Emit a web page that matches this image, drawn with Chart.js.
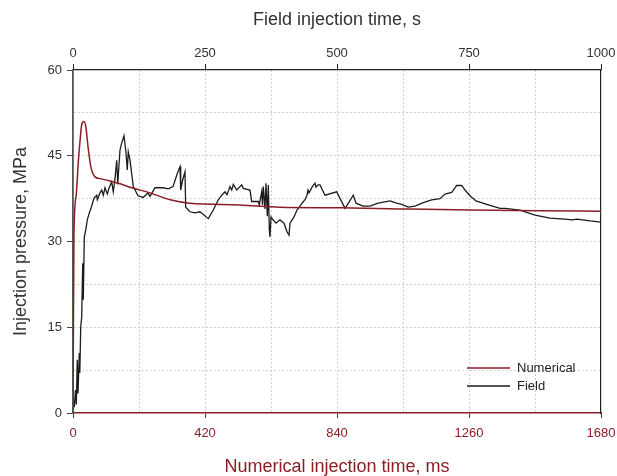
<!DOCTYPE html>
<html>
<head>
<meta charset="utf-8">
<script src="https://cdn.jsdelivr.net/npm/chart.js@4"></script>
<style>
  html, body { margin: 0; padding: 0; background: #fff; }
</style>
</head>
<body>
<canvas id="pressureChart" width="617" height="476"></canvas>
<script>
// Numerical run: time in ms (bottom axis), pressure in MPa
const numTimeMs = [0, 3, 10, 17, 23, 28, 35, 41, 48, 57, 70, 86, 118, 150, 181, 245, 309, 372, 531, 659, 850, 1040, 1263, 1486, 1680]
const numPressure = [0, 31, 38, 44, 48, 50.5, 51, 50, 46.5, 43, 41.3, 41, 40.6, 40.1, 39.5, 38.5, 37.3, 36.7, 36.4, 36, 35.9, 35.7, 35.5, 35.4, 35.3]

// Field record: time in s (top axis), pressure in MPa
const fieldTimeS = [
  2.5, 4.7, 6.3, 8.1, 9.5, 11.9, 12.9, 14.6, 16.5, 18.4, 19.5, 21.4, 24.1, 27.1, 30.9, 34.7,
  39.8, 44.9, 46.0, 51.1, 54.4, 57.4, 60.6, 65.0, 68.8, 73.3, 76.3, 79.5, 82.8, 84.7, 89.0,
  92.2, 96.6, 100.4, 102.8, 104.7, 108.0, 114.2, 123.1, 132.6, 142.0, 145.8, 155.3, 171.0,
  180.5, 189.4, 196.4, 202.7, 204.0, 207.8, 212.1, 213.4, 221.6, 231.1, 240.5, 256.3, 265.7,
  275.2, 281.6, 287.9, 291.7, 297.3, 300.6, 303.6, 310.0, 319.5, 322.5, 335.2, 338.4, 350.9,
  352.8, 357.4, 358.9, 360.4, 363.6, 365.5, 368.0, 369.9, 371.8, 373.1, 375.0, 378.8, 384.5,
  392.0, 399.6, 405.3, 409.1, 411.0, 418.6, 424.2, 429.9, 433.7, 439.4, 443.2, 445.1, 447.0,
  452.7, 458.3, 460.2, 464.0, 467.8, 477.3, 499.4, 515.2, 530.9, 536.0, 549.2, 562.5, 577.7,
  600.4, 613.1, 622.5, 635.0, 647.7, 663.4, 679.4, 695.1, 704.5, 717.2, 726.7, 736.2, 742.4,
  751.9, 763.3, 783.5, 808.7, 818.2, 846.6, 875.0, 903.4, 931.8, 945.1, 954.5, 979.2, 1000
]
const fieldPressure = [
  1, 4, 1.5, 9.3, 3.4, 10.5, 7, 15, 16.8, 26.2, 19.8, 30.8, 32, 33.8, 35, 36,
  37.6, 38.1, 37.3, 38.5, 39, 38.1, 39.4, 38.3, 39.5, 40.4, 38.7, 41, 44.2, 40, 46,
  47.2, 48.5, 45.5, 42.5, 45.7, 44.2, 39.6, 38, 37.7, 38.5, 37.9, 39.4, 39.4,
  39.2, 39.6, 41.6, 43.1, 39, 40.8, 42.2, 36, 35.2, 35, 35.2, 34, 35.5,
  37.3, 38.1, 38.7, 38.2, 39.6, 39, 40, 39, 39.9, 39.3, 39, 37, 37,
  36.4, 38.7, 36.4, 39.6, 35.7, 40.2, 34.4, 39.9, 32, 30.8, 34.3, 33.8, 33.2,
  33.8, 33.2, 31.7, 31.1, 33.2, 34.3, 35.5, 36.2, 36.7, 37.3, 38.1, 39, 38.5,
  39.5, 40.2, 39.5, 39.9, 39.9, 38.1, 38.7, 35.8, 38.1, 36.7, 36.2, 36.2, 36.7,
  37.1, 36.7, 36.5, 36, 36.2, 36.8, 37.3, 37.5, 38.3, 38.6, 39.8, 39.8, 39,
  38, 37.1, 36.5, 35.8, 35.8, 35.5, 34.6, 34.1, 33.9, 33.8, 33.9, 33.6, 33.4
]

const RED = '#8b1e24'
const INK = '#333333'
const GRID = '#d0d0d0'
Chart.defaults.font.family = '"Liberation Sans", Arial, sans-serif'

// legend drawn inside the plot, bottom right
const insideLegend = {
  id: 'insideLegend',
  afterDatasetsDraw(chart) {
    const {ctx, chartArea} = chart
    ctx.save()
    ctx.font = '13px "Liberation Sans", Arial, sans-serif'
    ctx.textBaseline = 'middle'
    chart.data.datasets.forEach((ds, i) => {
      const x = chartArea.right - 134
      const y = chartArea.bottom - 45 + i * 18
      ctx.strokeStyle = ds.borderColor
      ctx.lineWidth = 1.4
      ctx.beginPath()
      ctx.moveTo(x, y)
      ctx.lineTo(x + 43, y)
      ctx.stroke()
      ctx.fillStyle = '#222'
      ctx.fillText(ds.label, x + 50, y)
    })
    ctx.restore()
  }
}

const data = {
  datasets: [{
    label: 'Numerical',
    data: numTimeMs.map((t, i) => ({x: t, y: numPressure[i]})),
    xAxisID: 'x',
    yAxisID: 'y',
    borderColor: RED,
    borderWidth: 1.5,
    pointRadius: 0,
    cubicInterpolationMode: 'monotone'
  },
  {
    label: 'Field',
    data: fieldTimeS.map((t, i) => ({x: t, y: fieldPressure[i]})),
    xAxisID: 'x2',
    yAxisID: 'y',
    borderColor: '#1f1b1b',
    borderWidth: 1.3,
    pointRadius: 0,
    tension: 0
  }]
}

// small tick padding keeps the edge labels from widening the side margins;
// a tall line height pushes the labels away from the axis instead
const options = {
  responsive: false,
  animation: false,
  layout: {padding: 0},
  plugins: {legend: {display: false}, tooltip: {enabled: false}},
  scales: {
    x: {
      type: 'linear',
      position: 'bottom',
      min: 0,
      max: 1680,
      afterFit: s => { s.height = 63 },
      ticks: {
        stepSize: 210, autoSkip: false, maxRotation: 0, padding: 1,
        color: RED, font: {size: 13, lineHeight: 2.2},
        callback: v => v % 420 === 0 ? v : ''
      },
      grid: {
        color: c => (c.tick.value === 0 || c.tick.value === 1680) ? 'transparent' : GRID,
        tickColor: c => c.tick.value % 420 === 0 ? RED : 'transparent',
        tickLength: 5
      },
      border: {color: RED, width: 1.5, dash: [2, 2]},
      title: {
        display: true, text: 'Numerical injection time, ms',
        color: RED, font: {size: 18}, padding: {top: 0, bottom: -2}
      }
    },
    x2: {
      type: 'linear',
      position: 'top',
      display: true,
      min: 0,
      max: 1000,
      afterFit: s => { s.height = 70 },
      ticks: {stepSize: 250, maxRotation: 0, padding: 1, color: INK, font: {size: 13, lineHeight: 1.54}, callback: v => v},
      grid: {drawOnChartArea: false, tickLength: 6, tickColor: '#222'},
      border: {color: '#222', width: 1.2},
      title: {
        display: true, text: 'Field injection time, s',
        color: INK, font: {size: 18}, padding: {top: 9, bottom: 0}
      }
    },
    y: {
      position: 'left',
      min: 0,
      max: 60,
      afterFit: s => { s.width = 73 },
      ticks: {
        stepSize: 7.5, padding: 5, color: INK, font: {size: 13},
        callback: v => v % 15 === 0 ? v : ''
      },
      grid: {
        color: c => (c.tick.value === 0 || c.tick.value === 60) ? 'transparent' : GRID,
        tickColor: c => c.tick.value % 15 === 0 ? '#444' : 'transparent',
        tickLength: 6
      },
      border: {color: '#555', width: 1.8, dash: [2, 2]},
      title: {
        display: true, text: 'Injection pressure, MPa',
        color: INK, font: {size: 18}, padding: {top: 10, bottom: 0}
      }
    },
    yr: {
      position: 'right',
      display: true,
      min: 0,
      max: 60,
      afterFit: s => { s.width = 16 },
      ticks: {display: false},
      grid: {drawOnChartArea: false, drawTicks: false},
      border: {color: '#222', width: 1.2}
    }
  }
}

new Chart(document.getElementById('pressureChart'), {
  type: 'line',
  data: data,
  options: options,
  plugins: [insideLegend]
})
</script>
</body>
</html>
